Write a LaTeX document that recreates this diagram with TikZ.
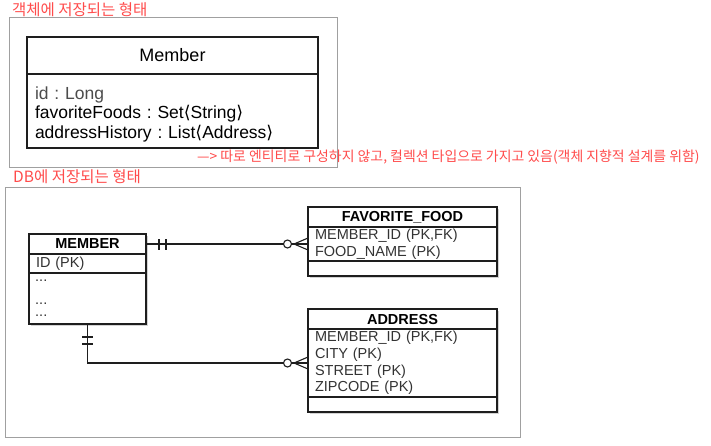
\documentclass[tikz,border=0pt]{standalone}
\usepackage{fontspec}
\setmainfont{Liberation Sans}
\newfontfamily\krfont{Noto Sans CJK KR}
\newfontfamily\symfont{DejaVu Sans}
\usetikzlibrary{positioning,shadows,decorations.markings}
\definecolor{notered}{HTML}{FF4B4B}
\definecolor{framegray}{HTML}{A0A0A0}
\definecolor{boxline}{HTML}{1E1E1E}
\newcommand{\langb}{{\symfont ⟨}}
\newcommand{\rangb}{{\symfont ⟩}}
\frenchspacing

\begin{document}
\begin{tikzpicture}[
    x=1pt,y=-1pt,
    node distance=0pt,
    frame/.style={draw=framegray,line width=0.8pt},
    note/.style={text=notered,font=\krfont\fontsize{13.9}{15}\selectfont,inner sep=0pt,anchor=west},
    title/.style={note,font=\krfont\fontsize{15.5}{17}\selectfont},
    umlhead/.style={draw=boxline,line width=1.3pt,fill=white,outer sep=0pt,inner sep=0pt,
      minimum width=291pt,minimum height=37pt,font=\fontsize{18}{20}\selectfont},
    umlbody/.style={draw=boxline,line width=1.3pt,fill=white,outer sep=0pt,inner xsep=8pt,inner ysep=0pt,
      minimum width=291pt,minimum height=74pt,text width=275pt,align=left,font=\fontsize{17.5}{19.5}\selectfont},
    tblhead/.style={draw=boxline,line width=1.3pt,fill=white,outer sep=0pt,inner sep=0pt,align=center,
      minimum height=20pt,font=\bfseries\fontsize{14.5}{17}\selectfont,
      drop shadow={shadow xshift=1.5pt,shadow yshift=-1.5pt,opacity=.35}},
    tblpart/.style={draw=boxline,line width=1.3pt,fill=white,outer sep=0pt,inner xsep=7pt,inner ysep=0pt,
      align=left,text=black!80,font=\fontsize{14.5}{16.8}\selectfont,
      drop shadow={shadow xshift=1.5pt,shadow yshift=-1.5pt,opacity=.35}},
    tblnarrow/.style={minimum width=117pt,text width=103pt},
    tblwide/.style={minimum width=189pt,text width=175pt},
    dots/.style={anchor=north west,inner sep=0pt,align=left,text=black!80,font=\fontsize{14.5}{16.8}\selectfont},
    rel/.style={draw=boxline,line width=1.1pt},
    onemany/.style={postaction={decorate,decoration={markings,
        mark=at position 13pt with {\draw[rel] (0,-5.5pt) -- (0,5.5pt);},
        mark=at position 20pt with {\draw[rel] (0,-5.5pt) -- (0,5.5pt);},
        mark=at position 1 with {\draw[rel] (-14pt,0) -- (0,6pt) (-14pt,0) -- (0,-6pt);
          \draw[rel,fill=white] (-20.5pt,0) circle (4pt);}}}}
  ]
  \useasboundingbox (0,0) rectangle (711,445);

  % object side
  \draw[frame] (9,17) rectangle (337,167);
  \node[title] (objlabel) at (12,9.5) {객체에 저장되는 형태};
  \node[umlhead] (member) at (172.5,55.5) {Member};
  \node[umlbody,below=of member] (memberfields)
    {\rule{0pt}{20pt}\textcolor{black!70}{id : Long}\\
     favoriteFoods : Set\langb String\rangb\\
     addressHistory : List\langb Address\rangb\rule[-5pt]{0pt}{5pt}};
  \node[note] (memo) at (197,157.5) {—> 따로 엔티티로 구성하지 않고, 컬렉션 타입으로 가지고 있음(객체 지향적 설계를 위함)};

  % db side
  \draw[frame] (5,187) rectangle (520,437);
  \node[title] (dblabel) at (13,177) {DB에 저장되는 형태};

  \node[tblhead,tblnarrow] (mhead) at (87.5,244) {MEMBER};
  \node[tblpart,tblnarrow,minimum height=19pt,below=of mhead] (mkey) {ID (PK)};
  \node[tblpart,tblnarrow,minimum height=51pt,below=of mkey] (mrest) {};
  \node[dots] (mdots) at (35,272.5) {\rule{0pt}{9pt}...\\[5.5pt]...\\[-4.3pt]...};

  \node[tblhead,tblwide] (fhead) at (402.5,217) {FAVORITE\_FOOD};
  \node[tblpart,tblwide,minimum height=34pt,below=of fhead] (fattr)
    {MEMBER\_ID (PK,FK)\\FOOD\_NAME (PK)};
  \node[tblpart,tblwide,minimum height=15pt,below=of fattr] (frest) {};

  \node[tblhead,tblwide] (ahead) at (402.5,319) {ADDRESS};
  \node[tblpart,tblwide,minimum height=68pt,below=of ahead] (aattr)
    {MEMBER\_ID (PK,FK)\\CITY (PK)\\STREET (PK)\\ZIPCODE (PK)};
  \node[tblpart,tblwide,minimum height=15pt,below=of aattr] (arest) {};

  \draw[rel,onemany] (mhead.east) -- (fattr.west);
  \draw[rel,onemany] (mrest.south) |- (aattr.west);
\end{tikzpicture}
\end{document}
